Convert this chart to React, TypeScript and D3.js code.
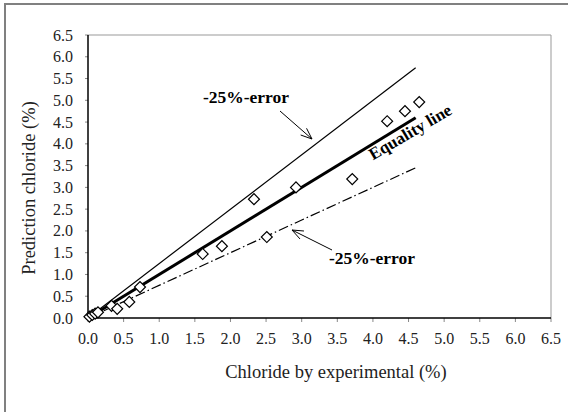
import * as d3 from "d3";

// measured chloride (%) vs predicted chloride (%)
const expX = [0.02, 0.06, 0.1, 0.14, 0.33, 0.41, 0.58, 0.73, 1.61, 1.88, 2.33, 2.51, 2.92, 3.71, 4.2, 4.45, 4.65];
const predY = [0.03, 0.07, 0.1, 0.13, 0.28, 0.21, 0.37, 0.71, 1.47, 1.65, 2.73, 1.86, 3.0, 3.19, 4.52, 4.75, 4.96];

const ticks = [0, 0.5, 1, 1.5, 2, 2.5, 3, 3.5, 4, 4.5, 5, 5.5, 6, 6.5];

// reference lines: [x, y] end points
const equalityLine = [[0, 0], [4.6, 4.6]];
const upperLine = [[0, 0], [4.6, 5.75]];
const lowerLine = [[0, 0], [4.6, 3.45]];

const W = 568;
const H = 412;
const font = "'Liberation Serif', 'Times New Roman', serif";

export default function App() {
  const x = d3.scaleLinear().domain([0, 6.5]).range([88, 551]);
  const y = d3.scaleLinear().domain([0, 6.5]).range([318, 35]);
  const line = d3.line<number[]>().x(d => x(d[0])).y(d => y(d[1]));

  const arrow = (x1: number, y1: number, x2: number, y2: number) => {
    const a = Math.atan2(y2 - y1, x2 - x1);
    const L = 12, s = 0.38;
    const p1 = [x2 - L * Math.cos(a - s), y2 - L * Math.sin(a - s)];
    const p2 = [x2 - L * Math.cos(a + s), y2 - L * Math.sin(a + s)];
    return (
      <g stroke="#000" strokeWidth={1} fill="none">
        <line x1={x1} y1={y1} x2={x2} y2={y2} />
        <polyline points={`${p1[0]},${p1[1]} ${x2},${y2} ${p2[0]},${p2[1]}`} />
      </g>
    );
  };

  return (
    <svg width={W} height={H} style={{ position: "absolute", left: 0, top: 0, fontFamily: font }}>
      <rect x={0} y={0} width={W} height={H} fill="#fff" />
      <rect x={5} y={4} width={W + 20} height={H + 20} fill="none" stroke="#808080" strokeWidth={2} />

      {/* plot frame */}
      <line x1={x(0)} y1={y(6.5)} x2={x(6.5)} y2={y(6.5)} stroke="#999" strokeWidth={1} />
      <line x1={x(6.5)} y1={y(6.5)} x2={x(6.5)} y2={y(0)} stroke="#999" strokeWidth={1} />

      {/* ticks */}
      {ticks.map(t => (
        <g key={"x" + t}>
          <line x1={x(t)} x2={x(t)} y1={y(0)} y2={y(0) + 4} stroke="#888" />
          <text x={x(t)} y={y(0) + 26} fontSize={16} textAnchor="middle" fill="#222">{t.toFixed(1)}</text>
        </g>
      ))}
      {ticks.map(t => (
        <g key={"y" + t}>
          <line x1={x(0) - 3} x2={x(0)} y1={y(t)} y2={y(t)} stroke="#888" />
          <text x={73} y={y(t) + 5.5} fontSize={16} textAnchor="end" fill="#222">{t.toFixed(1)}</text>
        </g>
      ))}

      {/* axes */}
      <line x1={x(0)} y1={y(0)} x2={x(6.5)} y2={y(0)} stroke="#000" strokeWidth={1.5} />
      <line x1={x(0)} y1={y(0)} x2={x(0)} y2={y(6.5)} stroke="#000" strokeWidth={1.5} />

      {/* lines */}
      <path d={line(upperLine as any) || ""} stroke="#000" strokeWidth={1.2} fill="none" />
      <path d={line(lowerLine as any) || ""} stroke="#000" strokeWidth={1.2} fill="none" strokeDasharray="10,3,1.5,3" />
      <path d={line(equalityLine as any) || ""} stroke="#000" strokeWidth={3} fill="none" />

      {/* points */}
      {expX.map((v, i) => (
        <path key={i} d={d3.symbol(d3.symbolSquare, 60)() || ""}
          transform={`translate(${x(v)},${y(predY[i])}) rotate(45)`}
          fill="#fff" stroke="#000" strokeWidth={1.2} />
      ))}

      {/* annotations */}
      <text x={246} y={103} fontSize={17.5} fontWeight="bold" textAnchor="middle">-25%-error</text>
      {arrow(280, 111, 312, 139)}
      <text x={413} y={137} fontSize={17} fontWeight="bold" textAnchor="middle" transform="rotate(-30.5,413,137)">Equality line</text>
      <text x={372} y={264} fontSize={17.5} fontWeight="bold" textAnchor="middle">-25%-error</text>
      {arrow(332, 250, 292, 230)}

      <text x={336} y={378} fontSize={18.5} textAnchor="middle" fill="#222">Chloride by experimental (%)</text>
      <text transform="translate(35,188) rotate(-90)" fontSize={18.5} textAnchor="middle" fill="#222">Prediction chloride (%)</text>
    </svg>
  );
}
